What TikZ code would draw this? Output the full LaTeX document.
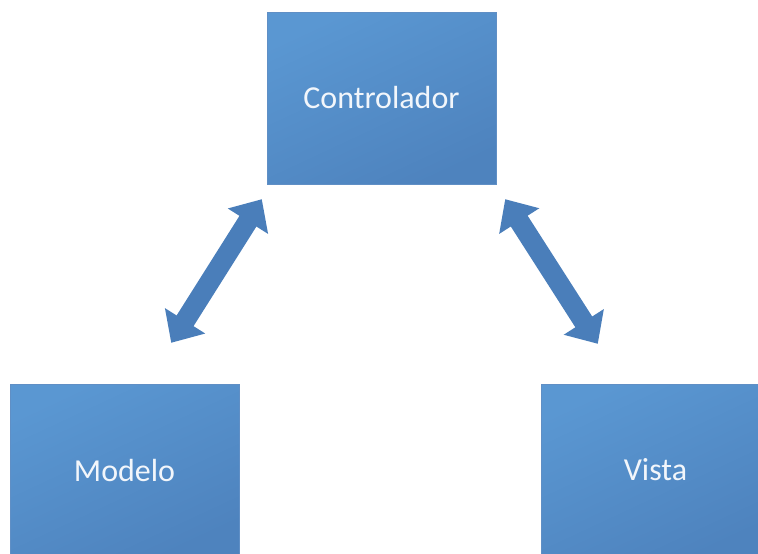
\documentclass[tikz,border=0pt]{standalone}
\usepackage{fontspec}
\setmainfont{Carlito}
\usetikzlibrary{arrows.meta,positioning,calc}
\definecolor{boxlight}{HTML}{5A97D2}
\definecolor{boxdark} {HTML}{4E83BE}
\definecolor{arrblue} {HTML}{4A7EBA}
\definecolor{txtwhite}{HTML}{F2F6FB}

\begin{document}
\begin{tikzpicture}[
  comp/.style={rectangle,minimum width=229pt,minimum height=172pt,
               inner sep=0pt,draw=boxdark!90!white,line width=0.4pt,
               top color=boxlight,bottom color=boxdark,shading angle=25,
               text=txtwhite,font=\fontsize{32}{38}\selectfont},
  biarr/.style={{Triangle[length=26pt,width=46pt]}-{Triangle[length=26pt,width=46pt]},
                line width=20pt,draw=arrblue},
  x=1pt, y=-1pt
]
\useasboundingbox (0,0) rectangle (758,554);
\clip (0,0) rectangle (758,554);

%% Componentes: Controlador (arriba), Modelo (abajo izq), Vista (abajo der)
\node[comp] (ctrl)   at (381.5, 98) {Controlador};
\node[comp] (modelo) at (124.5,470) {Modelo};
\node[comp] (vista)  at (655.5,470) {Vista};

%% Puntas de las flechas
\coordinate (cm) at ($(ctrl.south west)+(-5,15)$);
\coordinate (mc) at ($(modelo.north east)+(-68,-41)$);
\coordinate (cv) at ($(ctrl.south east)+(9,15)$);
\coordinate (vc) at ($(vista.north west)+(57,-40)$);

%% Controlador <-> Modelo
\draw[biarr] (cm) -- (mc);

%% Controlador <-> Vista
\draw[biarr] (cv) -- (vc);

\end{tikzpicture}
\end{document}
